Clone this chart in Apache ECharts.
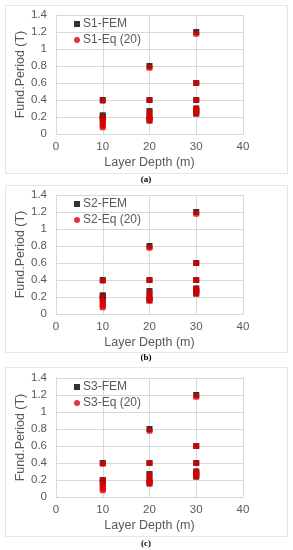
<!DOCTYPE html>
<html><head><meta charset="utf-8">
<script src="https://cdn.jsdelivr.net/npm/echarts@6/dist/echarts.min.js"></script>
<style>html,body{margin:0;padding:0;background:#fff}#c{width:293px;height:550px}</style>
</head><body><div id="c"></div>
<script>
// Data (layer depth m, fundamental period T)
const panelNames = ['S1', 'S2', 'S3'];
const captions = ['(a)', '(b)', '(c)'];
const xTicks = [0, 10, 20, 30, 40];
const yTicks = [0, 0.2, 0.4, 0.6, 0.8, 1, 1.2, 1.4];

const femDepth1 = [10, 10, 10, 10, 20, 20, 20, 20, 20, 30, 30, 30, 30, 30, 30];
const femT1     = [0.40, 0.22, 0.20, 0.17, 0.80, 0.40, 0.27, 0.20, 0.16, 1.20, 0.60, 0.40, 0.30, 0.27, 0.24];
const eqDepth1  = [10, 10, 10, 10, 10, 10, 20, 20, 20, 20, 20, 20, 30, 30, 30, 30, 30, 30];
const eqT1      = [0.39, 0.20, 0.15, 0.12, 0.10, 0.08, 0.78, 0.40, 0.26, 0.20, 0.18, 0.16, 1.18, 0.60, 0.40, 0.30, 0.27, 0.24];

const femDepth2 = [10, 10, 10, 10, 20, 20, 20, 20, 20, 30, 30, 30, 30, 30, 30];
const femT2     = [0.40, 0.22, 0.20, 0.17, 0.80, 0.40, 0.27, 0.20, 0.16, 1.20, 0.60, 0.40, 0.30, 0.27, 0.24];
const eqDepth2  = [10, 10, 10, 10, 10, 10, 20, 20, 20, 20, 20, 20, 30, 30, 30, 30, 30, 30];
const eqT2      = [0.39, 0.20, 0.15, 0.12, 0.10, 0.08, 0.78, 0.40, 0.26, 0.20, 0.18, 0.16, 1.18, 0.60, 0.40, 0.30, 0.27, 0.24];

const femDepth3 = [10, 10, 10, 20, 20, 20, 20, 20, 30, 30, 30, 30, 30, 30];
const femT3     = [0.40, 0.20, 0.17, 0.80, 0.40, 0.27, 0.20, 0.16, 1.20, 0.60, 0.40, 0.30, 0.27, 0.24];
const eqDepth3  = [10, 10, 10, 10, 10, 10, 20, 20, 20, 20, 20, 20, 30, 30, 30, 30, 30, 30];
const eqT3      = [0.39, 0.20, 0.15, 0.12, 0.10, 0.08, 0.78, 0.40, 0.26, 0.20, 0.18, 0.16, 1.18, 0.60, 0.40, 0.30, 0.27, 0.24];

const femDepth = [femDepth1, femDepth2, femDepth3];
const femT = [femT1, femT2, femT3];
const eqDepth = [eqDepth1, eqDepth2, eqDepth3];
const eqT = [eqT1, eqT2, eqT3];

const zip = (a, b) => a.map((v, i) => [v, b[i]]);

const gridTops = [15, 195, 378];
const borders = [[5, 5, 282, 168], [5, 185, 282, 167], [5, 367, 282, 169]];
const capY = [180, 358, 544];
const FONT = 'Liberation Sans';
const gray = '#595959';
const lineC = '#d9d9d9';

const grid = [], xAxis = [], yAxis = [], series = [], legend = [], graphic = [];
for (let i = 0; i < 3; i++) {
  grid.push({left: 56, width: 187, top: gridTops[i], height: 119});
  xAxis.push({
    type: 'value', gridIndex: i, min: 0, max: 40, interval: 10,
    name: 'Layer Depth (m)', nameLocation: 'middle', nameGap: 22, nameMoveOverlap: false,
    nameTextStyle: {color: gray, fontSize: 12.5, fontFamily: FONT},
    axisLine: {show: true, lineStyle: {color: lineC}}, axisTick: {show: false},
    axisLabel: {color: gray, fontSize: 11.5, fontFamily: FONT, margin: 7},
    splitLine: {show: true, lineStyle: {color: lineC}}
  });
  yAxis.push({
    type: 'value', gridIndex: i, min: 0, max: 1.4, interval: 0.2,
    name: 'Fund.Period (T)', nameLocation: 'middle', nameGap: 29, nameMoveOverlap: false,
    nameTextStyle: {color: gray, fontSize: 12.5, fontFamily: FONT},
    axisLine: {show: true, lineStyle: {color: lineC}}, axisTick: {show: false},
    axisLabel: {color: gray, fontSize: 11.5, fontFamily: FONT, margin: 9,
      formatter: v => String(Math.round(v * 10) / 10)},
    splitLine: {show: true, lineStyle: {color: lineC}}
  });
  const fName = panelNames[i] + '-FEM', eName = panelNames[i] + '-Eq (20)';
  series.push({
    name: fName, type: 'scatter', xAxisIndex: i, yAxisIndex: i,
    symbol: 'rect', symbolSize: 6, itemStyle: {color: '#000000'},
    data: zip(femDepth[i], femT[i]), z: 2
  });
  series.push({
    name: eName, type: 'scatter', xAxisIndex: i, yAxisIndex: i,
    symbol: 'roundRect', symbolSize: 6, itemStyle: {color: '#e00000'},
    data: zip(eqDepth[i], eqT[i]), z: 3
  });
  legend.push({
    orient: 'vertical', left: 74, top: gridTops[i] + 3, itemGap: 4, padding: 0,
    itemWidth: 6, itemHeight: 6,
    textStyle: {color: gray, fontSize: 12, fontFamily: FONT, padding: [0, 0, 0, -2]},
    data: [{name: fName, icon: 'rect'}, {name: eName, icon: 'circle'}]
  });
  const b = borders[i];
  graphic.push({type: 'rect', shape: {x: b[0] + 0.5, y: b[1] + 0.5, width: b[2], height: b[3]},
    style: {fill: 'none', stroke: '#e6e6e6', lineWidth: 1}, silent: true});
  graphic.push({type: 'text', x: 146, y: capY[i],
    style: {text: captions[i], fill: '#000', font: 'bold 9px "Liberation Serif"', textAlign: 'center', textVerticalAlign: 'middle'}});
}

const chart = echarts.init(document.getElementById('c'), null, {renderer: 'canvas'});
chart.setOption({animation: false, backgroundColor: '#fff', grid, xAxis, yAxis, series, legend, graphic});
</script></body></html>
